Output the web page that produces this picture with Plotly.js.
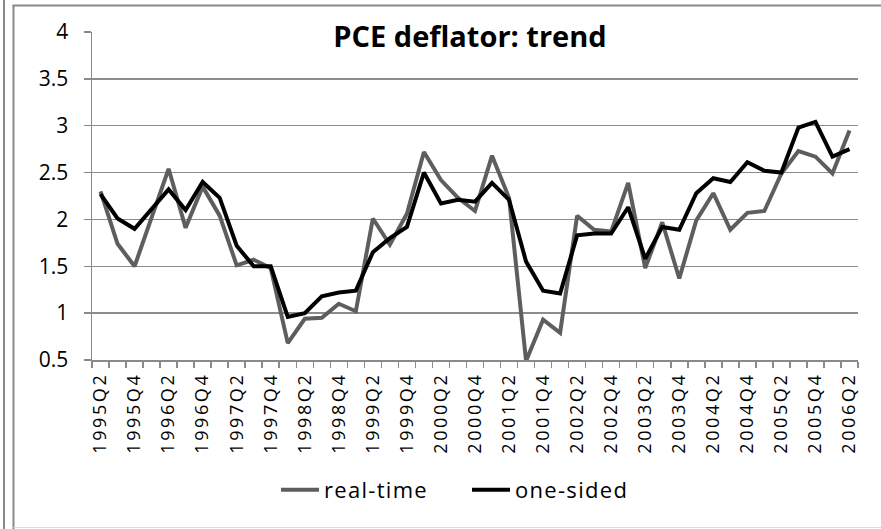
<!DOCTYPE html>
<html>
<head>
<meta charset="utf-8">
<script src="https://cdn.plot.ly/plotly-3.0.1.min.js"></script>
<style>
  html, body { margin: 0; padding: 0; background: #ffffff; }
  #chart { width: 881px; height: 529px; }
  .xtick text { letter-spacing: 2.6px; }
  .legendtext { letter-spacing: 1.3px; }
</style>
</head>
<body>
<div id="chart"></div>
<script>
const quarters = [
  "1995Q2","1995Q3","1995Q4","1996Q1","1996Q2","1996Q3","1996Q4","1997Q1","1997Q2","1997Q3",
  "1997Q4","1998Q1","1998Q2","1998Q3","1998Q4","1999Q1","1999Q2","1999Q3","1999Q4","2000Q1",
  "2000Q2","2000Q3","2000Q4","2001Q1","2001Q2","2001Q3","2001Q4","2002Q1","2002Q2","2002Q3",
  "2002Q4","2003Q1","2003Q2","2003Q3","2003Q4","2004Q1","2004Q2","2004Q3","2004Q4","2005Q1",
  "2005Q2","2005Q3","2005Q4","2006Q1","2006Q2"
];

const realTime = [
  2.30, 1.74, 1.50, 2.02, 2.54, 1.91, 2.35, 2.04, 1.51, 1.57,
  1.48, 0.68, 0.94, 0.95, 1.10, 1.02, 2.01, 1.73, 2.06, 2.72,
  2.42, 2.23, 2.09, 2.68, 2.23, 0.49, 0.93, 0.79, 2.04, 1.89,
  1.87, 2.39, 1.48, 1.97, 1.37, 1.99, 2.28, 1.89, 2.07, 2.09,
  2.49, 2.73, 2.67, 2.49, 2.95
];

const oneSided = [
  2.27, 2.01, 1.90, 2.11, 2.32, 2.10, 2.40, 2.23, 1.72, 1.50,
  1.50, 0.96, 1.00, 1.18, 1.22, 1.24, 1.65, 1.80, 1.92, 2.50,
  2.17, 2.21, 2.19, 2.39, 2.21, 1.55, 1.24, 1.21, 1.83, 1.85,
  1.85, 2.13, 1.58, 1.92, 1.89, 2.28, 2.44, 2.40, 2.61, 2.52,
  2.50, 2.98, 3.04, 2.67, 2.75
];

const seriesNames = ["real-time", "one-sided"];
const chartTitle = "PCE deflator: trend";

// label every other quarter, starting with the first
const tickText = quarters.map((q, i) => (i % 2 === 0 ? q : ""));

const W = 881, H = 529;
const M = { l: 92, r: 23, t: 32, b: 169 };
const PW = W - M.l - M.r, PH = H - M.t - M.b;
const px = x => (x - M.l) / PW;
const py = y => (H - M.b - y) / PH;

const traces = [
  {
    x: quarters, y: realTime, name: seriesNames[0], type: "scatter", mode: "lines",
    line: { color: "#5e5e5e", width: 4 }
  },
  {
    x: quarters, y: oneSided, name: seriesNames[1], type: "scatter", mode: "lines",
    line: { color: "#000000", width: 4 }
  }
];

const frame = "#8a8a8a";
const layout = {
  width: W, height: H,
  margin: M,
  paper_bgcolor: "#ffffff",
  plot_bgcolor: "#ffffff",
  font: { family: "Open Sans, sans-serif", color: "#000000" },
  title: {
    text: "<b>" + chartTitle + "</b>",
    font: { family: "Open Sans, sans-serif", size: 29, color: "#000000" },
    xref: "paper", x: px(470), xanchor: "center",
    yref: "container", y: 1 - 37 / H, yanchor: "middle"
  },
  xaxis: {
    type: "category",
    tickmode: "array",
    tickvals: quarters,
    ticktext: tickText,
    tickangle: -90,
    tickson: "boundaries",
    ticks: "outside", ticklen: 6, tickcolor: frame, tickwidth: 1.5,
    showline: true, linecolor: frame, linewidth: 1.5,
    showgrid: false, zeroline: false,
    tickfont: { family: "Open Sans, sans-serif", size: 18, color: "#000000" },
    ticklabelstandoff: 4,
    range: [-0.5, quarters.length - 0.5],
    automargin: false
  },
  yaxis: {
    range: [0.5, 4],
    dtick: 0.5,
    tick0: 0.5,
    ticks: "outside", ticklen: 7, tickcolor: frame, tickwidth: 1.5,
    showline: true, linecolor: frame, linewidth: 1.5,
    showgrid: true, gridcolor: "#8c8c8c", gridwidth: 1.5,
    zeroline: false,
    tickfont: { family: "Open Sans, sans-serif", size: 21, color: "#000000" },
    ticklabelstandoff: 11,
    automargin: false
  },
  showlegend: true,
  legend: {
    orientation: "h",
    x: px(276), xanchor: "left",
    y: py(490), yanchor: "middle",
    font: { family: "Open Sans, sans-serif", size: 22, color: "#000000" },
    bgcolor: "rgba(0,0,0,0)",
    itemwidth: 38,
    entrywidth: 138,
    entrywidthmode: "pixels",
    traceorder: "normal"
  },
  shapes: [
    { type: "line", xref: "paper", yref: "paper", x0: px(4), x1: px(4), y0: py(0), y1: py(H),
      line: { color: frame, width: 2 } },
    { type: "line", xref: "paper", yref: "paper", x0: px(13.5), x1: px(13.5), y0: py(5), y1: py(H),
      line: { color: frame, width: 2 } },
    { type: "line", xref: "paper", yref: "paper", x0: px(12.5), x1: px(W), y0: py(5.5), y1: py(5.5),
      line: { color: frame, width: 2 } },
    { type: "line", xref: "paper", yref: "paper", x0: px(13.5), x1: px(W), y0: py(527.5), y1: py(527.5),
      line: { color: "#dddddd", width: 1 } }
  ]
};

Plotly.newPlot("chart", traces, layout, { displayModeBar: false, responsive: false, staticPlot: true });
</script>
</body>
</html>
